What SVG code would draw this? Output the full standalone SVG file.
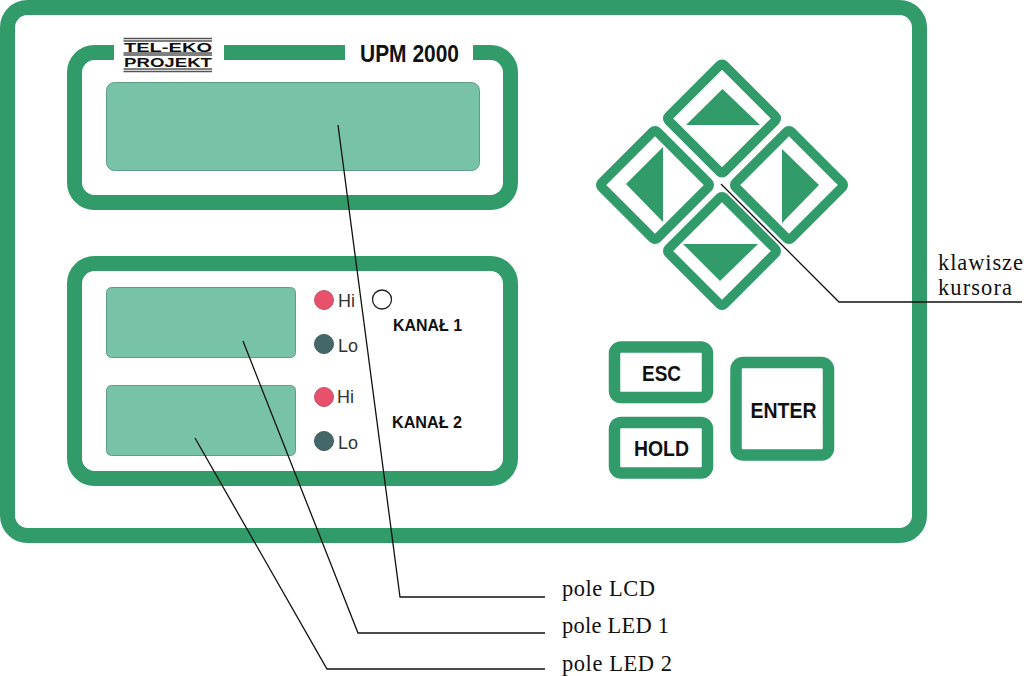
<svg xmlns="http://www.w3.org/2000/svg" width="1024" height="676" viewBox="0 0 1024 676">
<style>
.frame{fill:#fff;stroke:#329b6a}
.key{fill:#fff;stroke:#329b6a;stroke-width:9.5}
.tri{fill:#329b6a}
.disp{fill:#78c2a8;stroke:#5f9c88;stroke-width:1}
.hi{fill:#e9506c;stroke:#b8566a;stroke-width:1}
.lo{fill:#44686a;stroke:#3b5a5c;stroke-width:1}
.sm{font:18px "Liberation Sans",Arial,sans-serif;fill:#333}
.ch{font:bold 16px "Liberation Sans",Arial,sans-serif;fill:#111}
.btn{font:bold 22px "Liberation Sans",Arial,sans-serif;fill:#111}
.lab{font:22.5px "Liberation Serif","Times New Roman",serif;fill:#111}
.logo{font:bold 13.5px "Liberation Sans",Arial,sans-serif;fill:#111}
.lead{fill:none;stroke:#111;stroke-width:1.3}
</style>
<rect width="1024" height="676" fill="#fff"/>
<g id="housing"><rect class="frame" x="7.500" y="7.500" width="912" height="528" rx="20" stroke-width="15"/></g>
<g id="lcd-panel">
<rect class="frame" x="74.500" y="52.500" width="436" height="150" rx="20" stroke-width="15"/>
<rect x="114" y="40" width="110" height="30" fill="#fff"/>
<rect x="345" y="40" width="128" height="30" fill="#fff"/>
<text x="360" y="62" font-family="Liberation Sans, Arial, sans-serif" font-weight="bold" font-size="24" fill="#111" textLength="99" lengthAdjust="spacingAndGlyphs">UPM 2000</text>
<rect class="disp" x="106.500" y="82.500" width="373" height="88" rx="8"/>
</g>
<g id="logo">
<path d="M123.500 38.500H212M123.500 41H212M123.500 53H212M123.500 55H212M123.500 69H212M123.500 71.500H212" stroke="#555" stroke-width="1.300" fill="none"/>
<text class="logo" x="124" y="52" textLength="88" lengthAdjust="spacingAndGlyphs">TEL-EKO</text>
<text class="logo" x="124" y="67" textLength="88" lengthAdjust="spacingAndGlyphs">PROJEKT</text>
</g>
<g id="led-panel">
<rect class="frame" x="74.500" y="263.500" width="436" height="215" rx="20" stroke-width="15"/>
<rect class="disp" x="106.500" y="287.500" width="189" height="70" rx="5"/>
<rect class="disp" x="106.500" y="385.500" width="189" height="70" rx="5"/>
<circle class="hi" cx="324" cy="300" r="9.500"/><text class="sm" x="338" y="307">Hi</text>
<circle class="lo" cx="324" cy="344" r="9.500"/><text class="sm" x="338" y="352">Lo</text>
<circle class="hi" cx="324" cy="397" r="9.500"/><text class="sm" x="337" y="403">Hi</text>
<circle class="lo" cx="324" cy="441" r="9.500"/><text class="sm" x="338" y="449">Lo</text>
<circle cx="382" cy="299.500" r="9.500" fill="#fff" stroke="#222" stroke-width="1.300"/>
<text class="ch" x="393" y="331" textLength="69" lengthAdjust="spacingAndGlyphs">KANAŁ 1</text>
<text class="ch" x="392" y="428" textLength="70" lengthAdjust="spacingAndGlyphs">KANAŁ 2</text>
</g>
<g id="key-up"><rect class="key" x="682.750" y="79.250" width="78.500" height="78.500" rx="3" transform="rotate(45 722 118.500)"/><polygon class="tri" points="722.500,89 760,125 686,125"/></g>
<g id="key-left"><rect class="key" x="615.750" y="145.750" width="78.500" height="78.500" rx="3" transform="rotate(45 655 185)"/><polygon class="tri" points="626,184 663,147 663,222"/></g>
<g id="key-right"><rect class="key" x="749.750" y="145.750" width="78.500" height="78.500" rx="3" transform="rotate(45 789 185)"/><polygon class="tri" points="782,149 819,185 782,223"/></g>
<g id="key-down"><rect class="key" x="682.750" y="211.750" width="78.500" height="78.500" rx="3" transform="rotate(45 722 251)"/><polygon class="tri" points="683,244 758,244 720,281"/></g>
<g id="key-esc"><rect class="frame" x="614.500" y="347" width="93" height="50.500" rx="6.500" stroke-width="11.500"/><text class="btn" x="642" y="381" textLength="39" lengthAdjust="spacingAndGlyphs">ESC</text></g>
<g id="key-hold"><rect class="frame" x="614.500" y="422.500" width="93" height="50.500" rx="6.500" stroke-width="11.500"/><text class="btn" x="634" y="456" textLength="55" lengthAdjust="spacingAndGlyphs">HOLD</text></g>
<g id="key-enter"><rect class="frame" x="736" y="362.500" width="92.500" height="92.500" rx="7" stroke-width="11.500"/><text class="btn" x="750.500" y="418" textLength="66" lengthAdjust="spacingAndGlyphs">ENTER</text></g>
<g id="connectors">
<polyline class="lead" points="338,125 400,597 545,597"/>
<polyline class="lead" points="243,341 358,633 545,633"/>
<polyline class="lead" points="195,438 327,669 545,669"/>
<polyline class="lead" points="721,184 839,302 1022,302"/>
</g>
<g id="labels">
<text class="lab" x="938" y="270" textLength="85">klawisze</text>
<text class="lab" x="938" y="295" textLength="74">kursora</text>
<text class="lab" x="562" y="596" textLength="93">pole LCD</text>
<text class="lab" x="562" y="633" textLength="107">pole LED 1</text>
<text class="lab" x="562" y="671" textLength="110">pole LED 2</text>
</g>
</svg>
